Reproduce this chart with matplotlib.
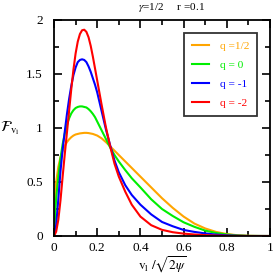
import matplotlib
matplotlib.use("Agg")
import matplotlib.pyplot as plt
from matplotlib.ticker import MultipleLocator

plt.rcParams['font.family'] = ['Liberation Serif', 'DejaVu Serif']
plt.rcParams['mathtext.fontset'] = 'stix'

# ---- data ----
x_orange = [0.0, 0.005, 0.01, 0.02, 0.03, 0.04, 0.05, 0.06, 0.07, 0.08, 0.09, 0.10,
            0.12, 0.14, 0.15, 0.16, 0.18, 0.20, 0.22, 0.24, 0.26, 0.28, 0.30, 0.33,
            0.36, 0.40, 0.45, 0.50, 0.55, 0.60, 0.65, 0.70, 0.75, 0.80, 0.85, 0.90,
            0.95, 1.0]
y_orange = [0.10, 0.35, 0.50, 0.64, 0.73, 0.79, 0.835, 0.87, 0.895, 0.915, 0.93, 0.94,
            0.95, 0.955, 0.955, 0.953, 0.945, 0.93, 0.905, 0.87, 0.83, 0.79, 0.75, 0.69,
            0.63, 0.55, 0.45, 0.35, 0.26, 0.18, 0.115, 0.07, 0.038, 0.018, 0.007, 0.002,
            0.0, 0.0]

x_green = [0.0, 0.01, 0.02, 0.03, 0.04, 0.05, 0.06, 0.07, 0.08, 0.09, 0.10, 0.11,
           0.12, 0.13, 0.14, 0.15, 0.16, 0.17, 0.18, 0.19, 0.20, 0.22, 0.24, 0.26,
           0.28, 0.30, 0.33, 0.36, 0.40, 0.45, 0.50, 0.55, 0.60, 0.65, 0.70, 0.75,
           0.80, 0.85, 0.90, 1.0]
y_green = [0.02, 0.35, 0.55, 0.72, 0.85, 0.95, 1.03, 1.09, 1.135, 1.165, 1.185, 1.195,
           1.2, 1.2, 1.195, 1.19, 1.175, 1.155, 1.13, 1.10, 1.06, 0.98, 0.90, 0.82,
           0.75, 0.69, 0.61, 0.535, 0.45, 0.34, 0.25, 0.185, 0.127, 0.085, 0.05, 0.028,
           0.014, 0.005, 0.001, 0.0]

x_blue = [0.0, 0.01, 0.02, 0.03, 0.04, 0.05, 0.06, 0.07, 0.08, 0.09, 0.10, 0.11,
          0.12, 0.13, 0.14, 0.15, 0.16, 0.17, 0.18, 0.19, 0.20, 0.22, 0.24, 0.26,
          0.28, 0.30, 0.33, 0.36, 0.40, 0.45, 0.50, 0.55, 0.60, 0.65, 0.70, 0.75,
          0.80, 0.85, 0.90, 1.0]
y_blue = [0.0, 0.10, 0.34, 0.60, 0.80, 0.97, 1.13, 1.27, 1.39, 1.49, 1.56, 1.61,
          1.63, 1.636, 1.63, 1.61, 1.57, 1.52, 1.46, 1.40, 1.33, 1.16, 0.99, 0.84,
          0.70, 0.59, 0.47, 0.38, 0.29, 0.20, 0.13, 0.09, 0.056, 0.038, 0.024, 0.013,
          0.006, 0.002, 0.0, 0.0]

x_red = [0.0, 0.01, 0.02, 0.03, 0.04, 0.05, 0.06, 0.07, 0.08, 0.09, 0.10, 0.11,
         0.12, 0.13, 0.14, 0.15, 0.16, 0.17, 0.18, 0.19, 0.20, 0.22, 0.24, 0.26,
         0.28, 0.30, 0.33, 0.36, 0.40, 0.45, 0.50, 0.55, 0.60, 0.65, 0.70, 0.75,
         0.80, 0.85, 0.90, 1.0]
y_red = [0.0, 0.04, 0.15, 0.33, 0.55, 0.76, 0.96, 1.16, 1.36, 1.54, 1.69, 1.80,
         1.87, 1.905, 1.91, 1.89, 1.84, 1.76, 1.66, 1.55, 1.44, 1.22, 1.01, 0.83,
         0.67, 0.55, 0.41, 0.29, 0.18, 0.10, 0.057, 0.035, 0.022, 0.014, 0.008, 0.004,
         0.002, 0.001, 0.0, 0.0]

labels = ['q =1/2', 'q = 0', 'q = -1', 'q = -2']
colors = ['#FFA500', '#00EE00', '#0000FF', '#FF0000']

xticks = [0, 0.2, 0.4, 0.6, 0.8, 1]
xticklabels = ['0', '0.2', '0.4', '0.6', '0.8', '1']
yticks = [0, 0.5, 1, 1.5, 2]
yticklabels = ['0', '0.5', '1', '1.5', '2']

fig = plt.figure(figsize=(2.73, 2.78), dpi=100)
ax = fig.add_axes([54 / 273, 42 / 278, 216 / 273, 216 / 278])

series = [(x_orange, y_orange), (x_green, y_green), (x_blue, y_blue), (x_red, y_red)]
for (xs, ys), lab, c in zip(series, labels, colors):
    ax.plot(xs, ys, color=c, lw=1.5, label=lab, solid_joinstyle='round')

ax.set_xlim(0, 1)
ax.set_ylim(0, 2)
ax.set_xticks(xticks)
ax.set_xticklabels(xticklabels)
ax.set_yticks(yticks)
ax.set_yticklabels(yticklabels)
ax.xaxis.set_minor_locator(MultipleLocator(0.1))
ax.yaxis.set_minor_locator(MultipleLocator(0.25))
ax.tick_params(which='both', direction='in', top=True, right=True, labelsize=9.5,
               width=1.2, colors='black')
ax.tick_params(which='major', length=6)
ax.tick_params(axis='x', which='major', pad=4)
ax.tick_params(axis='y', which='major', pad=8)
ax.tick_params(which='minor', length=3.5)
for s in ax.spines.values():
    s.set_linewidth(1.3)

ax.set_xlabel(r'$\mathrm{v}_\mathrm{l}\ /\sqrt{2\psi}$', fontsize=9.5, labelpad=1)
ax.set_ylabel(r'$\mathcal{F}_{\mathrm{v}_\mathrm{l}}$', fontsize=11, rotation=0,
              labelpad=12, va='center')
fig.text(172 / 273, 1 - 8 / 278, r'$\gamma$=1/2     r =0.1', ha='center', va='center',
         fontsize=8)

leg = ax.legend(loc='upper right', bbox_to_anchor=(0.94, 0.94), borderaxespad=0,
                fontsize=8.2, labelcolor='linecolor', frameon=True, fancybox=False,
                handlelength=1.5, handletextpad=0.9, labelspacing=0.8,
                borderpad=0.7)
leg.get_frame().set_edgecolor('black')
leg.get_frame().set_linewidth(1.3)

fig.savefig('out.png', dpi=100)
